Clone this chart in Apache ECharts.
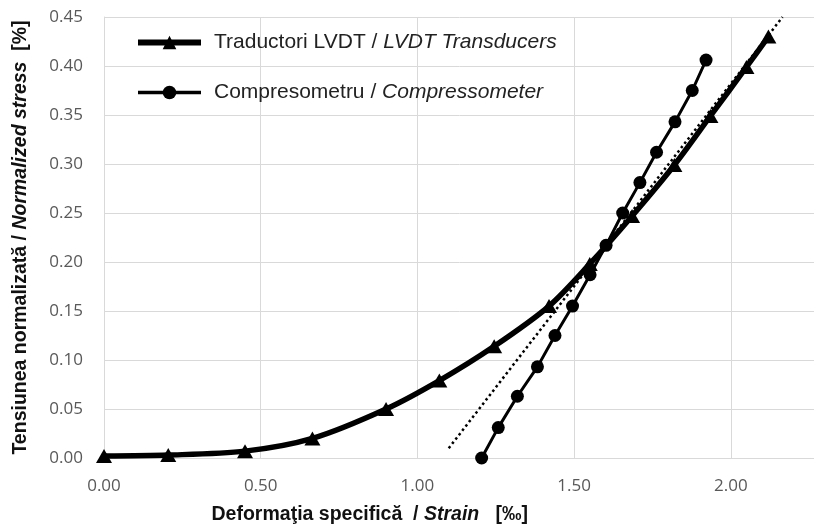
<!DOCTYPE html>
<html>
<head>
<meta charset="utf-8">
<script src="https://cdn.jsdelivr.net/npm/echarts@6/dist/echarts.min.js"></script>
<style>
  html, body { margin: 0; padding: 0; background: #fff; }
  #chart { width: 814px; height: 524px; }
</style>
</head>
<body>
<div id="chart"></div>
<script>
// LVDT transducers: [strain ‰, normalized stress %]
const lvdtData = [
  [0.00, 0.002], [0.205, 0.003], [0.45, 0.007], [0.665, 0.020], [0.90, 0.050],
  [1.07, 0.079], [1.245, 0.114], [1.42, 0.155], [1.55, 0.198], [1.685, 0.247],
  [1.82, 0.299], [1.935, 0.349], [2.05, 0.399], [2.12, 0.430]
]
// compressometer
const compData = [
  [1.205, 0.000], [1.258, 0.031], [1.319, 0.063], [1.383, 0.093], [1.439, 0.125],
  [1.495, 0.155], [1.551, 0.187], [1.602, 0.217], [1.655, 0.250], [1.71, 0.281],
  [1.763, 0.312], [1.822, 0.343], [1.877, 0.375], [1.921, 0.406]
]
// dotted linear trend (end points)
const trendData = [[1.10, 0.010], [2.165, 0.450]]

const seriesNames = ['Traductori LVDT / LVDT Transducers', 'Compresometru / Compressometer']

const labelFont = 'Open Sans, Noto Sans, sans-serif'
const textFont = 'Liberation Sans, Arial, sans-serif'

const chart = echarts.init(document.getElementById('chart'))

const option = {
  backgroundColor: '#fff',
  animation: false,
  grid: { left: 104, top: 17, bottom: 66, right: -73.5, outerBoundsMode: 'none' },
  legend: {
    data: [
      { name: seriesNames[0], lineStyle: { width: 6 }, itemStyle: { color: '#000' } },
      { name: seriesNames[1], lineStyle: { width: 3.5 }, itemStyle: { color: '#000' } }
    ],
    orient: 'vertical',
    left: 130,
    top: 27,
    itemWidth: 63,
    itemHeight: 17,
    itemGap: 29,
    formatter: name => {
      const parts = name.split(' / ')
      return parts[0] + ' / {i|' + parts[1] + '}'
    },
    textStyle: {
      fontFamily: textFont,
      fontSize: 21,
      color: '#222',
      padding: [0, 0, 0, 8],
      rich: {
        i: { fontFamily: textFont, fontSize: 21, fontStyle: 'italic', color: '#222' }
      }
    }
  },
  xAxis: {
    type: 'value',
    min: 0,
    max: 2.5,
    interval: 0.5,
    name: '{b|Deformaţia specifică  / }{bi|Strain}{b|   [‰]}',
    nameLocation: 'middle',
    nameGap: 47,
    nameTextStyle: {
      padding: [0, 252, 0, 0],
      rich: {
        b: { fontFamily: textFont, fontSize: 19.5, fontWeight: 'bold', color: '#111' },
        bi: { fontFamily: textFont, fontSize: 19.5, fontWeight: 'bold', fontStyle: 'italic', color: '#111' }
      }
    },
    axisLine: { show: true, lineStyle: { color: '#d9d9d9', width: 1 } },
    axisTick: { show: false },
    axisLabel: {
      margin: 20,
      color: '#595959',
      fontFamily: labelFont,
      fontSize: 17,
      formatter: v => v.toFixed(2)
    },
    splitLine: { show: true, lineStyle: { color: '#d9d9d9', width: 1 } }
  },
  yAxis: {
    type: 'value',
    min: 0,
    max: 0.45,
    interval: 0.05,
    name: '{b|Tensiunea normalizată / }{bi|Normalized stress}{b|  [%]}',
    nameLocation: 'middle',
    nameGap: 73,
    nameTextStyle: {
      rich: {
        b: { fontFamily: textFont, fontSize: 19.5, fontWeight: 'bold', color: '#111' },
        bi: { fontFamily: textFont, fontSize: 19.5, fontWeight: 'bold', fontStyle: 'italic', color: '#111' }
      }
    },
    axisLine: { show: true, lineStyle: { color: '#d9d9d9', width: 1 } },
    axisTick: { show: false },
    axisLabel: {
      margin: 21,
      color: '#595959',
      fontFamily: labelFont,
      fontSize: 17,
      formatter: v => v.toFixed(2)
    },
    splitLine: { show: true, lineStyle: { color: '#d9d9d9', width: 1 } }
  },
  series: [
    {
      name: 'trend',
      type: 'line',
      data: trendData,
      symbol: 'none',
      lineStyle: { color: '#000', width: 2.5, type: [2.5, 3] },
      z: 1
    },
    {
      name: seriesNames[0],
      type: 'line',
      data: lvdtData,
      smooth: 0.3,
      symbol: 'triangle',
      symbolSize: [16, 14],
      itemStyle: { color: '#000' },
      lineStyle: { color: '#000', width: 5.5 },
      z: 3
    },
    {
      name: seriesNames[1],
      type: 'line',
      data: compData,
      symbol: 'circle',
      symbolSize: 13,
      itemStyle: { color: '#000' },
      lineStyle: { color: '#000', width: 3 },
      z: 2
    }
  ]
}

chart.setOption(option)
</script>
</body>
</html>
